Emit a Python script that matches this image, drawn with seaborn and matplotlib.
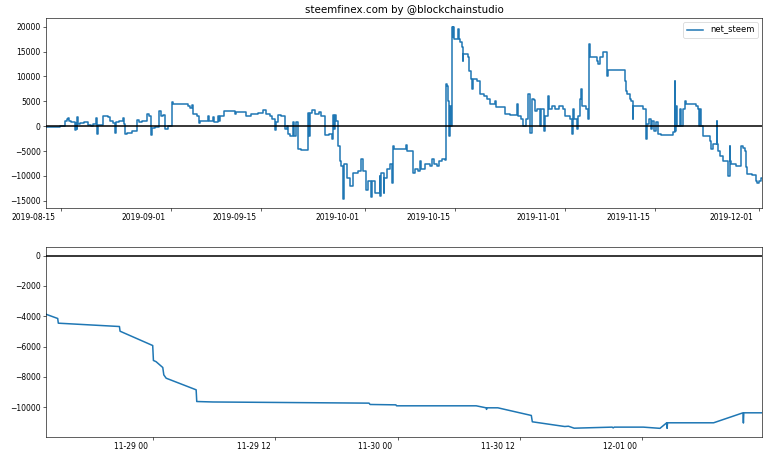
import numpy as np
import pandas as pd
import matplotlib
matplotlib.use("Agg")
import matplotlib.pyplot as plt
import matplotlib.dates as mdates
import matplotlib.transforms as mtransforms
import seaborn as sns

TITLE = "steemfinex.com by @blockchainstudio"
SERIES = "net_steem"

# ---- full history: days since 2019-08-15, net_steem value ----
top_days = [
    -2.32, -0.15, 0.62, 1.0, 1.13, 1.3, 1.6, 2.16, 2.3, 2.45, 2.53, 2.65, 2.94, 3.5, 4.2, 4.6,
    5.0, 5.41, 5.5, 5.65, 6.55, 7.2, 7.58, 8.0, 8.35, 8.5, 9.0, 9.64, 9.8, 9.9, 10.15, 11.0,
    11.7, 12.0, 12.5, 13.25, 13.6, 13.87, 14.02, 14.6, 15.2, 15.5, 15.8, 16.08, 16.6, 17.11,
    17.3, 19.7, 19.9, 20.2, 20.46, 21.0, 21.34, 21.5, 22.8, 22.9, 23.56, 23.7, 24.33, 24.45,
    24.59, 25.2, 26.9, 27.16, 28.7, 29.48, 30.5, 31.29, 31.8, 32.3, 32.58, 33.1, 33.3, 33.6,
    34.0, 34.64, 34.9, 35.2, 35.4, 35.93, 36.05, 36.3, 36.7, 37.2, 38.25, 38.4, 38.6, 38.9,
    39.3, 40.0, 40.3, 40.82, 41.5, 41.9, 42.1, 42.25, 42.37, 42.63, 42.89, 43.14, 43.4, 43.66,
    43.75, 44.2, 44.7, 45.2, 45.9, 46.5, 46.75, 47.27, 47.5, 48.0, 48.1, 48.56, 49.3, 49.4,
    49.5, 49.93, 50.05, 50.44, 50.9, 51.22, 51.37, 51.6, 53.2, 53.43, 53.53, 54.46, 54.8,
    55.2, 55.6, 55.7, 56.4, 57.14, 57.4, 57.65, 58.17, 58.43, 59.0, 59.46, 59.61, 59.8,
    59.97, 60.12, 60.2, 60.33, 60.49, 60.64, 60.74, 60.85, 61.51, 61.65, 61.77, 62.03, 62.18,
    62.29, 63.06, 63.21, 63.42, 63.57, 63.7, 64.35, 64.86, 65.4, 65.89, 66.4, 67.18, 67.3,
    68.72, 69.5, 70.53, 70.78, 71.2, 71.56, 71.9, 72.33, 72.59, 72.84, 73.2, 73.4, 73.62,
    74.13, 74.3, 74.75, 74.9, 75.42, 75.6, 76.0, 76.5, 77.0, 77.74, 77.99, 78.77, 79.02,
    79.18, 79.4, 79.8, 79.95, 80.31, 80.46, 80.6, 81.2, 81.6, 81.7, 81.85, 82.88, 83.1,
    83.4, 83.91, 84.43, 84.55, 84.69, 87.26, 87.4, 87.52, 88.03, 88.29, 88.5, 88.6, 89.06,
    90.0, 90.61, 90.75, 91.0, 91.3, 91.5, 91.8, 92.15, 92.41, 92.93, 94.73, 94.99, 95.1,
    95.24, 95.4, 95.76, 96.0, 96.27, 96.53, 96.79, 98.33, 98.59, 98.8, 98.9, 99.1, 99.4,
    100.39, 100.65, 100.9, 101.53, 101.6, 101.68, 101.94, 102.5, 103.22, 103.48, 103.55,
    103.74, 104.5, 105.28, 105.6, 105.86, 106.0, 106.05, 106.18, 106.9, 107.5, 107.55,
    107.72, 108.1, 108.4, 108.49,
]
top_values = [
    -250, -50, 1000, 1400, 1700, 1100, 800, -700, 600, -600, 1800, 400, 700, 800, 300, 0,
    400, 1600, -1500, 300, 2000, 1800, 1000, 700, -1300, 900, 1000, 1600, 400, -1500, -1300, -1000,
    1300, 800, 1000, 2500, 2000, -1700, -300, -200, 3000, 2000, 2300, -500, 0, 4800,
    4500, 4000, 3600, 4200, 2500, 2000, 700, 1000, 2000, 1000, 1900, 800, 2100, 1100,
    2000, 3000, 2500, 2800, 2000, 2500, 2700, 3200, 2500, 2000, 1500, -700, 800, 2300,
    2000, -500, 0, -1500, -2000, 800, -2000, 800, -4500, -4800, 2600, -2000, 2600, 3300,
    2500, 2800, 2000, -1700, -1500, -2600, 2300, -500, 2300, 1000, -4000, -7000, -8000, -14700,
    -7500, -10500, -12000, -9500, -9000, -6500, -9000, -12800, -11000, -14200, -11000, -13500, -10000, -14000,
    -9500, -13500, -10500, -8500, -7500, -11500, -4000, -4500, -4500, -3800, -5000, -9500, -8500,
    -9000, -7000, -8500, -7600, -8000, -6500, -7500, -8000, -7000, -6500, -6800, 8500, 8000,
    5000, -2000, 4000, 0, 20000, 18000, 20000, 17500, 19500, 17500, 17000, 16000, 13000,
    14500, 14000, 11000, 9500, 7500, 9500, 9000, 6500, 6000, 5500, 4500, 5000, 3800,
    2500, 2200, 4500, 2000, 1500, 0, 1500, 6500, -1300, 5500, 5300, 3000, 3500,
    0, 3500, -1000, 2000, 6000, 3500, 4000, 3500, 4000, 3500, 2000, 1500, -1500,
    3500, 1500, -500, 2000, 5500, 7500, 4000, 3500, 1500, 16500, 14000, 13000, 12500,
    14000, 15000, 11500, 10000, 11200, 9000, 7000, 6500, 5500, 5000, 1500, 4000, 4000,
    3500, -2500, 500, 1500, -500, 1000, -1000, 800, -1500, -1800, -1200, 9000, -1000,
    4000, 0, 3500, 0, 3500, 5000, 4500, 4000, 3500, 0, 3500, 0, -2000,
    -3000, -4500, -3500, 1000, -3500, -5000, -6000, -7000, -10000, -4000, -7000,
    -7500, -8000, -3900, -4450, -5000, -6900, -8100, -9650, -9850, -10050, -10950,
    -11400, -11050, -10400, -10400,
]

# ---- recent detail: hours since 2019-11-29 00:00, net_steem value ----
recent_hours = [
    -10.56, -9.41, -9.35, -3.34, -3.28, -0.07, 0.0, 0.26, 0.92, 1.02, 1.25, 4.2, 4.26, 5.84,
    21.2, 21.3, 23.84, 23.9, 31.73, 32.7, 32.75, 32.8, 33.86, 37.15, 37.25, 40.44, 40.8,
    41.36, 45.1, 45.2, 45.3, 48.16, 49.8, 50.46, 50.5, 50.54, 55.07, 57.96, 58.0, 58.04, 59.83,
]
recent_values = [
    -3870, -4150, -4460, -4680, -4990, -5935, -6920, -7000, -7385, -7870, -8090, -8858, -9630, -9660,
    -9737, -9825, -9850, -9913, -9913, -10045, -10150, -10045, -10045, -10550, -10968, -11280, -11260,
    -11390, -11320, -11370, -11320, -11320, -11400, -11034, -11400, -11034, -11034, -10375, -11050, -10375, -10375,
]

top_df = pd.DataFrame({
    "time": pd.Timestamp("2019-08-15") + pd.to_timedelta(top_days, unit="D"),
    SERIES: top_values,
})
recent_df = pd.DataFrame({
    "time": pd.Timestamp("2019-11-29") + pd.to_timedelta(recent_hours, unit="h"),
    SERIES: recent_values,
})

DPI = 55
fig, (ax1, ax2) = plt.subplots(2, 1, figsize=(768 / DPI, 458 / DPI), dpi=DPI)
fig.subplots_adjust(left=0.0599, right=0.9922, top=0.9607, bottom=0.0459, hspace=0.205)

blue = "#1f77b4"
LW = 2.0
sns.lineplot(data=top_df, x="time", y=SERIES, ax=ax1, color=blue, estimator=None,
             drawstyle="steps-post", label=SERIES, linewidth=LW)
ax1.axhline(0, color="black", linewidth=LW)
ax1.set_xlim(top_df["time"].iloc[0], top_df["time"].iloc[-1])
ax1.xaxis.set_major_locator(mdates.DayLocator(bymonthday=[1, 15]))
ax1.xaxis.set_major_formatter(mdates.DateFormatter("%Y-%m-%d"))
ax1.set_title(TITLE, fontsize=13.4)
ax1.set_xlabel("")
ax1.set_ylabel("")
ax1.legend(loc="upper right", fontsize=11)

sns.lineplot(data=recent_df, x="time", y=SERIES, ax=ax2, color=blue, estimator=None,
             linewidth=LW, legend=False)
ax2.axhline(0, color="black", linewidth=LW)
ax2.set_xlim(recent_df["time"].iloc[0], recent_df["time"].iloc[-1])
ax2.xaxis.set_major_locator(mdates.HourLocator(byhour=[0, 12]))
ax2.xaxis.set_major_formatter(mdates.DateFormatter("%m-%d %H"))
ax2.set_xlabel("")
ax2.set_ylabel("")

fig.canvas.draw()
offset = mtransforms.ScaledTranslation(-5 / DPI, 0, fig.dpi_scale_trans)
for ax in (ax1, ax2):
    for lab in ax.get_xticklabels():
        lab.set_ha("right")
        lab.set_transform(lab.get_transform() + offset)

fig.savefig("out.png", dpi=DPI)
